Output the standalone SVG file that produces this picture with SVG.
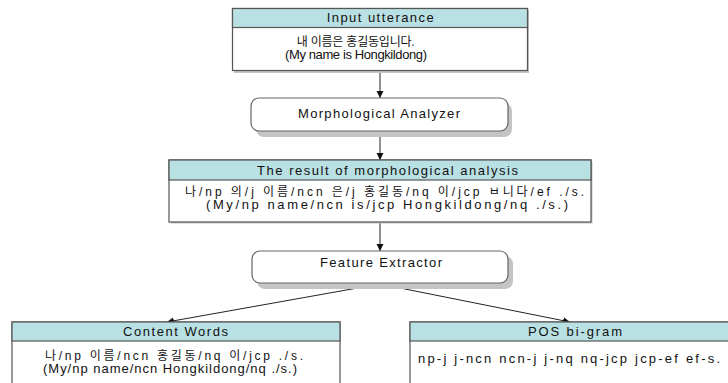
<svg xmlns="http://www.w3.org/2000/svg" width="728" height="383" viewBox="0 0 728 383">
<style>
.box{fill:#fff;stroke:#555;stroke-width:1.2}
.hdr{fill:#b9e0e3;stroke:#555;stroke-width:1.2}
.rbox{fill:#fff;stroke:#666;stroke-width:1.2}
.shadow{fill:#c4c4c4}
.t{font-family:"Liberation Sans","Noto Sans CJK KR",sans-serif;font-size:13px;fill:#111}
.k{font-size:12px}
.c{stroke:#222;stroke-width:1;fill:none}
</style>
<defs>
<marker id="ah" markerWidth="8" markerHeight="8" refX="7" refY="4" orient="auto" markerUnits="userSpaceOnUse">
<path d="M0,0.5 L7,4 L0,7.5 Z" fill="#111"/>
</marker>
</defs>
<g id="connectors">
<line class="c" x1="380" y1="71" x2="380" y2="98" marker-end="url(#ah)"/>
<line class="c" x1="380" y1="132" x2="380" y2="160" marker-end="url(#ah)"/>
<line class="c" x1="380" y1="223" x2="380" y2="251" marker-end="url(#ah)"/>
<line class="c" x1="380" y1="284" x2="167" y2="322" marker-end="url(#ah)"/>
<line class="c" x1="380" y1="284" x2="570" y2="322" marker-end="url(#ah)"/>
</g>
<g id="input">
<rect class="shadow" x="234" y="10" width="295" height="63"/>
<rect class="box" x="232.5" y="8.5" width="295" height="62"/>
<rect class="hdr" x="232.5" y="8.5" width="295" height="19"/>
<text class="t" x="326.7" y="22" textLength="107" lengthAdjust="spacing">Input utterance</text>
<text class="t k" x="296.7" y="46" textLength="118" lengthAdjust="spacing">내 이름은 홍길동입니다.</text>
<text class="t" x="285" y="59" textLength="142" lengthAdjust="spacing">(My name is Hongkildong)</text>
</g>
<g id="morph">
<rect class="shadow" x="256" y="103" width="256" height="34" rx="8"/>
<rect class="rbox" x="251" y="98" width="257" height="33" rx="8"/>
<text class="t" x="298" y="118" textLength="162" lengthAdjust="spacing">Morphological Analyzer</text>
</g>
<g id="result">
<rect class="shadow" x="170.5" y="161.5" width="422" height="62"/>
<rect class="box" x="169" y="160" width="422" height="62"/>
<rect class="hdr" x="169" y="160" width="422" height="20"/>
<text class="t" x="257" y="175" textLength="261" lengthAdjust="spacing">The result of morphological analysis</text>
<text class="t k" x="185" y="196" textLength="399" lengthAdjust="spacing">나/np 의/j 이름/ncn 은/j 홍길동/nq 이/jcp ㅂ니다/ef ./s.</text>
<text class="t" x="206" y="209" textLength="362" lengthAdjust="spacing">(My/np name/ncn is/jcp Hongkildong/nq ./s.)</text>
</g>
<g id="feature">
<rect class="shadow" x="257" y="256" width="256" height="33" rx="8"/>
<rect class="rbox" x="252" y="251" width="256" height="32" rx="8"/>
<text class="t" x="320" y="267" textLength="122" lengthAdjust="spacing">Feature Extractor</text>
</g>
<g id="content">
<rect class="box" x="12" y="322" width="328" height="70"/>
<rect class="hdr" x="12" y="322" width="328" height="19"/>
<text class="t" x="123" y="336" textLength="105" lengthAdjust="spacing">Content Words</text>
<text class="t k" x="45" y="360" textLength="258" lengthAdjust="spacing">나/np 이름/ncn 홍길동/nq 이/jcp ./s.</text>
<text class="t" x="43" y="373" textLength="254" lengthAdjust="spacing">(My/np name/ncn Hongkildong/nq ./s.)</text>
</g>
<g id="posbigram">
<rect class="box" x="410" y="322" width="330" height="70"/>
<rect class="hdr" x="410" y="322" width="330" height="19"/>
<text class="t" x="528" y="336" textLength="94" lengthAdjust="spacing">POS bi-gram</text>
<text class="t" x="418" y="363" textLength="302" lengthAdjust="spacing">np-j j-ncn ncn-j j-nq nq-jcp jcp-ef ef-s.</text>
</g>
</svg>
